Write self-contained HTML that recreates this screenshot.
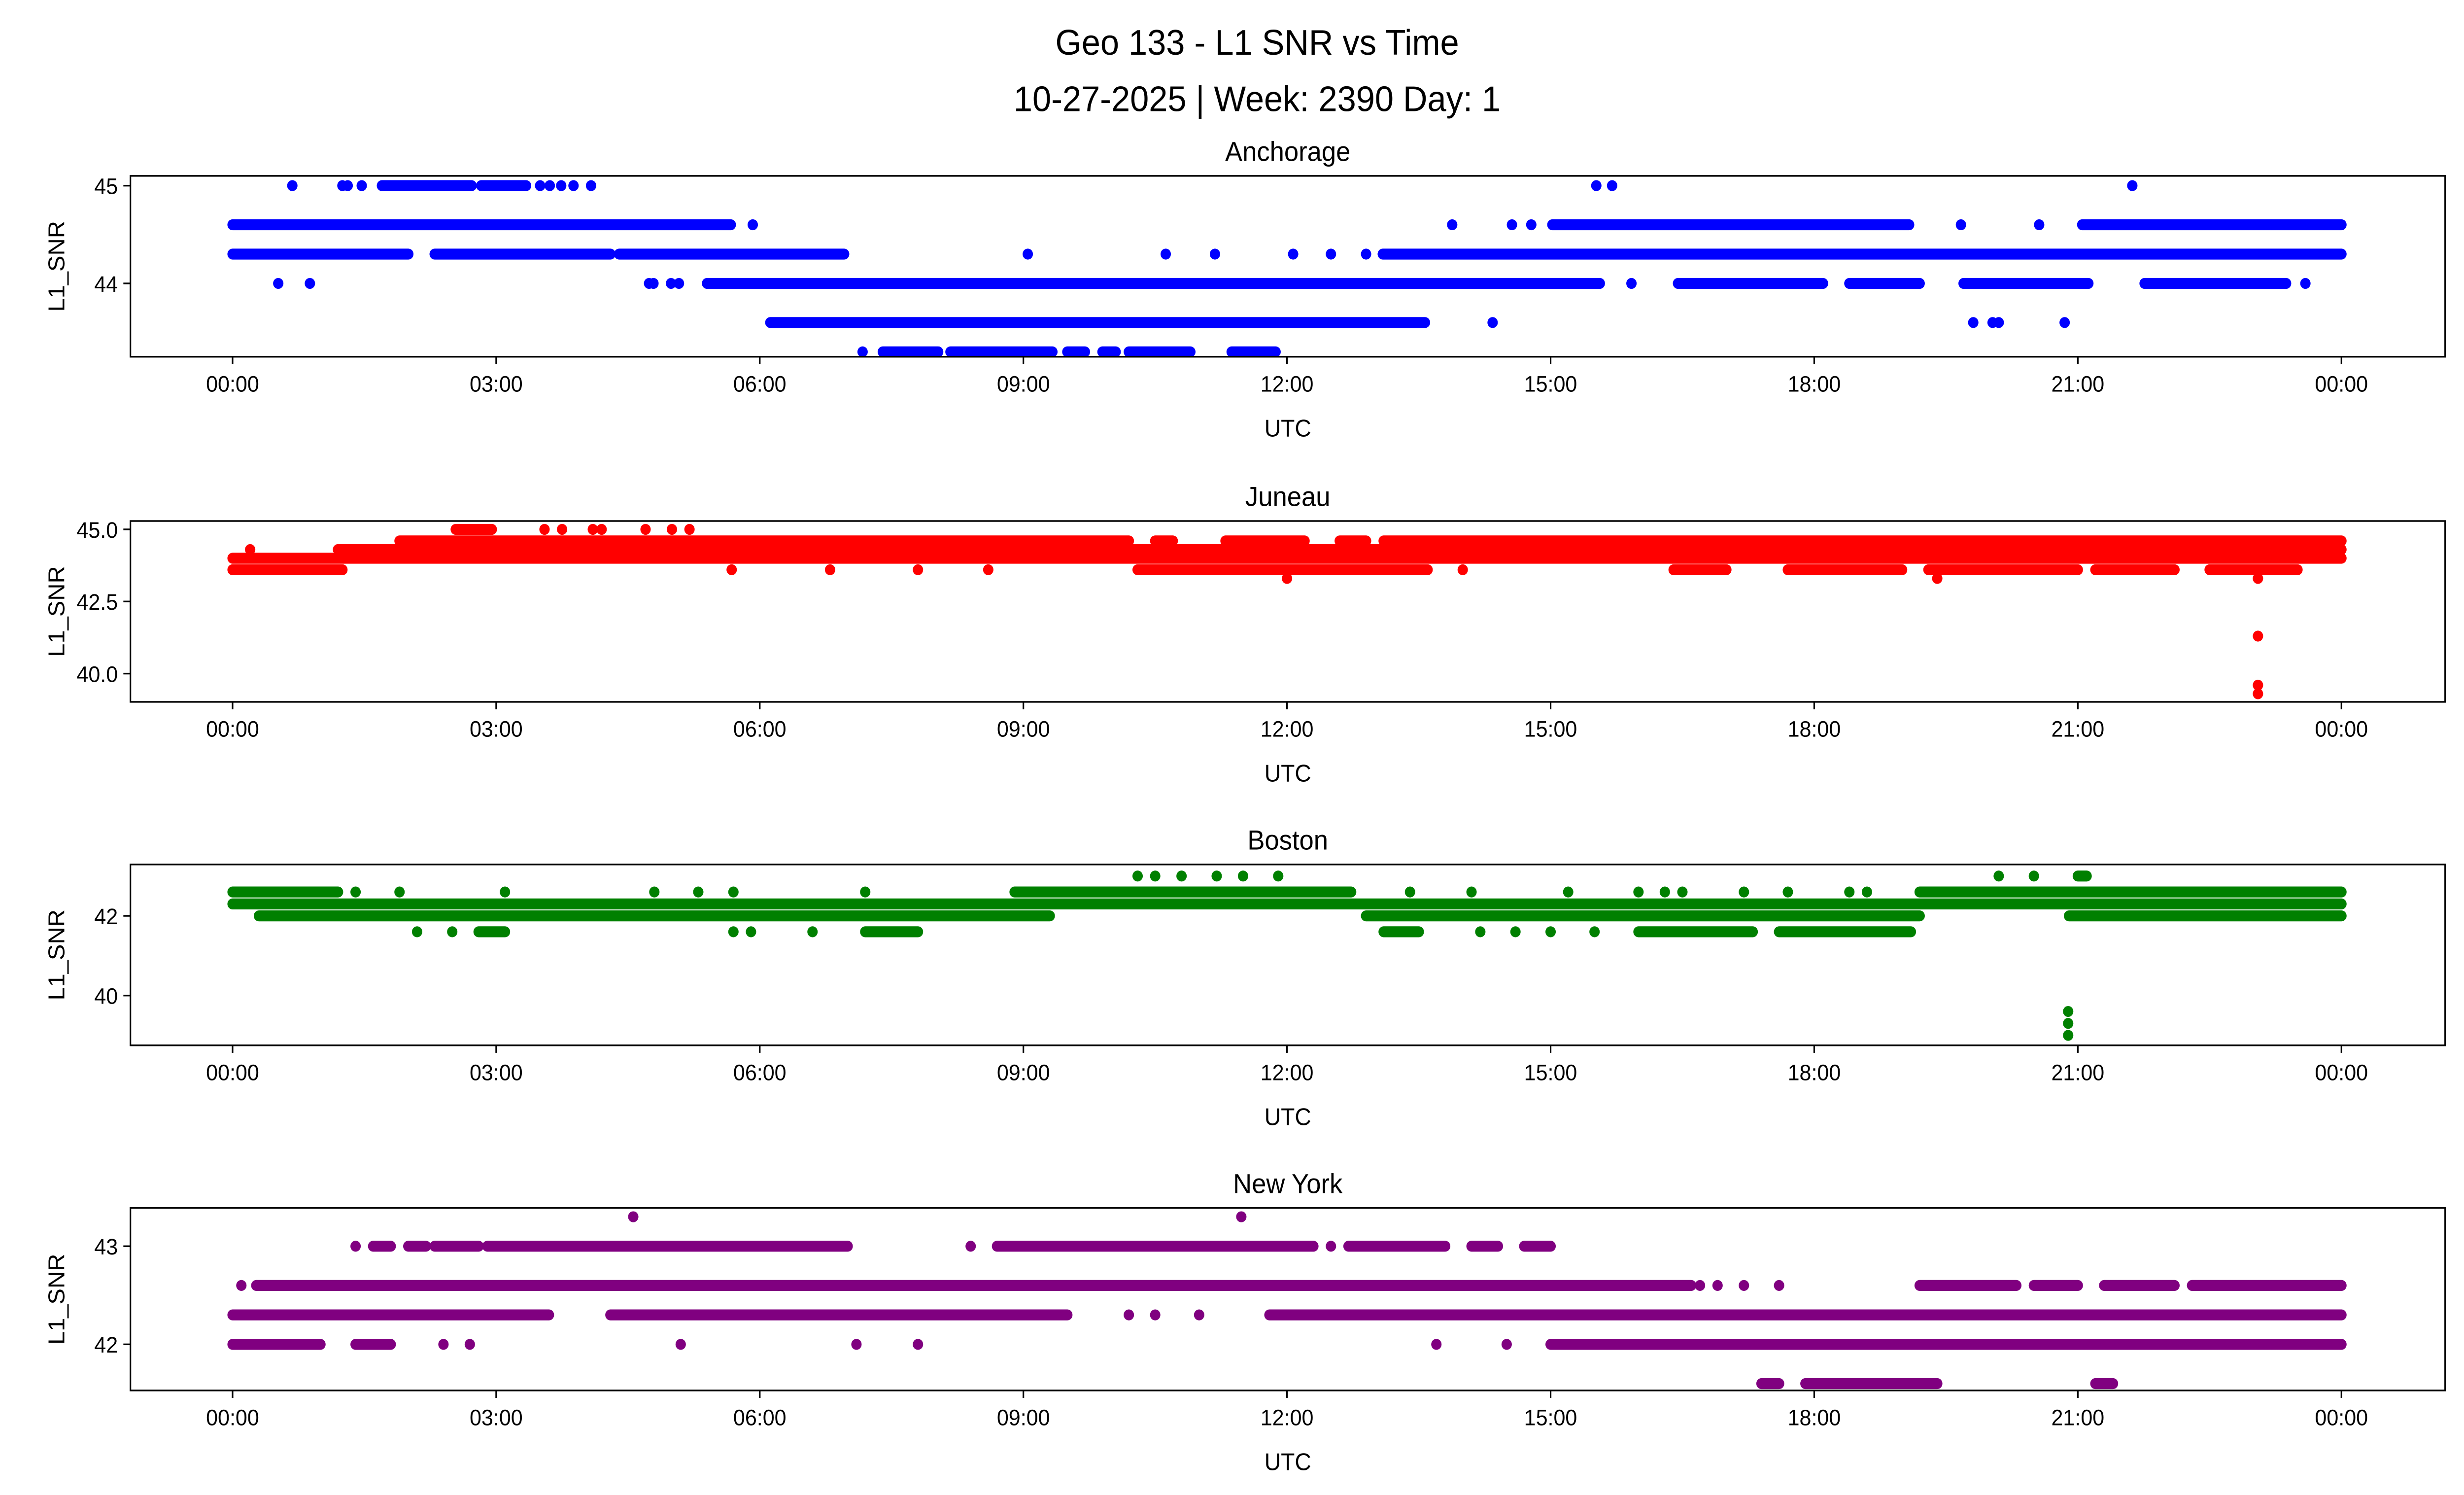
<!DOCTYPE html>
<html><head><meta charset="utf-8">
<style>
html,body{margin:0;padding:0;background:#fff;width:100%;height:100%;overflow:hidden;}
svg{display:block;position:absolute;left:0;top:0;width:100vw;height:100vh;}
text{font-family:"Liberation Sans","DejaVu Sans",sans-serif;fill:#000;}
</style></head>
<body>
<svg id="chart" viewBox="0 0 1568 901" preserveAspectRatio="none" xmlns="http://www.w3.org/2000/svg">
<text x="800" y="33" font-size="21.5" text-anchor="middle">Geo 133 - L1 SNR vs Time</text>
<text x="800" y="67" font-size="21.5" text-anchor="middle">10-27-2025 | Week: 2390 Day: 1</text>
</svg>
<script>
// x tick labels (hours)
const xTickHours = [0,3,6,9,12,15,18,21,24];
const xTickLabels = ["00:00","03:00","06:00","09:00","12:00","15:00","18:00","21:00","00:00"];

// Anchorage: segments [startHour, endHour, snr], points [hour, snr]
const anchorageSegments = [[0,5.67,44.6],[15.02,19.08,44.6],[21.05,24,44.6],[0,2.0,44.3],[2.3,4.3,44.3],[4.4,6.96,44.3],[13.09,24,44.3],[5.4,15.56,44.0],[16.45,18.1,44.0],[18.4,19.2,44.0],[19.7,21.12,44.0],[21.76,23.37,44.0],[6.12,13.57,43.6],[7.4,8.03,43.3],[8.17,9.33,43.3],[9.5,9.7,43.3],[9.9,10.05,43.3],[10.2,10.9,43.3],[11.37,11.87,43.3],[1.7,2.72,45],[2.83,3.34,45]];
const anchoragePoints = [[0.68,45],[1.25,45],[1.31,45],[1.47,45],[3.5,45],[3.61,45],[3.74,45],[3.88,45],[4.08,45],[15.52,45],[15.7,45],[21.62,45],[5.92,44.6],[13.88,44.6],[14.56,44.6],[14.78,44.6],[19.67,44.6],[20.56,44.6],[9.05,44.3],[10.62,44.3],[11.18,44.3],[12.07,44.3],[12.5,44.3],[12.9,44.3],[0.52,44],[0.88,44],[4.74,44],[4.79,44],[4.99,44],[5.08,44],[15.92,44],[23.59,44],[14.34,43.6],[19.81,43.6],[20.03,43.6],[20.1,43.6],[20.85,43.6],[7.17,43.3]];

// Juneau
const juneauSegments = [[0,1.25,43.6],[10.3,13.6,43.6],[16.4,17.0,43.6],[17.7,19.0,43.6],[19.3,21.0,43.6],[21.2,22.1,43.6],[22.5,23.5,43.6],[0,24,44.0],[1.2,24,44.3],[1.9,10.2,44.6],[10.5,10.7,44.6],[11.3,12.2,44.6],[12.6,12.9,44.6],[13.1,24,44.6],[2.54,2.95,45.0]];
const juneauPoints = [[0.2,44.3],[5.68,43.6],[6.8,43.6],[7.8,43.6],[8.6,43.6],[14.0,43.6],[3.55,45],[3.75,45],[4.1,45],[4.2,45],[4.7,45],[5.0,45],[5.2,45],[12.0,43.3],[19.4,43.3],[23.05,43.3],[23.05,41.3],[23.05,39.6],[23.05,39.3]];

// Boston
const bostonSegments = [[0,1.2,42.6],[8.9,12.73,42.6],[19.2,24,42.6],[0,24,42.3],[0.3,9.3,42.0],[12.9,19.2,42.0],[20.9,24,42.0],[2.8,3.1,41.6],[7.2,7.8,41.6],[13.1,13.5,41.6],[16.0,17.3,41.6],[17.6,19.1,41.6],[21.0,21.1,43.0]];
const bostonPoints = [[1.4,42.6],[1.9,42.6],[3.1,42.6],[4.8,42.6],[5.3,42.6],[5.7,42.6],[7.2,42.6],[13.4,42.6],[14.1,42.6],[15.2,42.6],[16.0,42.6],[16.3,42.6],[16.5,42.6],[17.2,42.6],[17.7,42.6],[18.4,42.6],[18.6,42.6],[2.1,41.6],[2.5,41.6],[5.7,41.6],[5.9,41.6],[6.6,41.6],[14.2,41.6],[14.6,41.6],[15.0,41.6],[15.5,41.6],[10.3,43],[10.5,43],[10.8,43],[11.2,43],[11.5,43],[11.9,43],[20.1,43],[20.5,43],[20.89,39.6],[20.89,39.3],[20.89,39.0]];

// New York
const nyParts = [[2.9,7.0,43.0],[8.7,12.3,43.0],[12.7,13.8,43.0],[14.1,14.4,43.0],[14.7,15.0,43.0],[1.6,1.8,43.0],[2.0,2.2,43.0],[2.3,2.8,43.0],[0.27,16.6,42.6],[19.2,20.3,42.6],[20.5,21.0,42.6],[21.3,22.1,42.6],[22.3,24,42.6],[0,3.6,42.3],[4.3,9.5,42.3],[11.8,24,42.3],[0,1.0,42.0],[1.4,1.8,42.0],[15.0,24,42.0],[17.4,17.6,41.6],[17.9,19.4,41.6],[21.2,21.4,41.6]];
const nyPoints = [[4.56,43.3],[11.48,43.3],[1.4,43],[8.4,43],[12.5,43],[0.1,42.6],[16.7,42.6],[16.9,42.6],[17.2,42.6],[17.6,42.6],[10.2,42.3],[10.5,42.3],[11.0,42.3],[2.4,42],[2.7,42],[5.1,42],[7.1,42],[7.8,42],[13.7,42],[14.5,42]];

const NS = "http://www.w3.org/2000/svg";
const svg = document.getElementById('chart');
const AX_L = 83, AX_R = 1556, X0 = 148, X24 = 1490;
function xScale(h){ return X0 + (X24 - X0) * h / 24; }
function mk(tag, attrs){ const e = document.createElementNS(NS, tag); for (const k in attrs) e.setAttribute(k, attrs[k]); return e; }

const panels = [
 {key:'anchorage', title:'Anchorage', top:106, bottom:215, ymax:45.10, ymin:43.25, yticks:[44,45], ylabels:['44','45'], color:'#0000ff', segs:anchorageSegments, pts:anchoragePoints},
 {key:'juneau', title:'Juneau', top:314, bottom:423, ymax:45.29, ymin:39.02, yticks:[40,42.5,45], ylabels:['40.0','42.5','45.0'], color:'#ff0000', segs:juneauSegments, pts:juneauPoints},
 {key:'boston', title:'Boston', top:521, bottom:630, ymax:43.29, ymin:38.75, yticks:[40,42], ylabels:['40','42'], color:'#008000', segs:bostonSegments, pts:bostonPoints},
 {key:'new-york', title:'New York', top:728, bottom:838, ymax:43.39, ymin:41.53, yticks:[42,43], ylabels:['42','43'], color:'#800080', segs:nyParts, pts:nyPoints}
];

panels.forEach(p => {
  const g = mk('g', {});
  
  
  svg.appendChild(g);
  const y = v => p.bottom - (v - p.ymin) / (p.ymax - p.ymin) * (p.bottom - p.top);
  const t = mk('text', {x:(AX_L+AX_R)/2, y:p.top-9, 'font-size':16.5, 'text-anchor':'middle'});
  t.textContent = p.title;
  
  
  g.appendChild(t);
  const r = 3.3;
  p.segs.forEach(s => {
    const l = mk('line', {x1:xScale(s[0]), x2:xScale(s[1]), y1:y(s[2]), y2:y(s[2]), stroke:p.color, 'stroke-width':2*r, 'stroke-linecap':'round'});
    
    
    g.appendChild(l);
  });
  p.pts.forEach(s => {
    const c = mk('circle', {cx:xScale(s[0]), cy:y(s[1]), r:r, fill:p.color});
    
    
    g.appendChild(c);
  });
  const frame = mk('rect', {x:AX_L, y:p.top, width:AX_R-AX_L, height:p.bottom-p.top, fill:'none', stroke:'#000', 'stroke-width':1});
  
  
  g.appendChild(frame);
  xTickHours.forEach((h,i) => {
    const x = xScale(h);
    const tk = mk('line', {x1:x, x2:x, y1:p.bottom, y2:p.bottom+4.5, stroke:'#000', 'stroke-width':1});
    
    
    g.appendChild(tk);
    const lb = mk('text', {x:x, y:p.bottom+21, 'font-size':13.5, 'text-anchor':'middle'});
    lb.textContent = xTickLabels[i];
    
    
    g.appendChild(lb);
  });
  p.yticks.forEach((v,i) => {
    const yy = y(v);
    const tk = mk('line', {x1:AX_L-4.5, x2:AX_L, y1:yy, y2:yy, stroke:'#000', 'stroke-width':1});
    
    
    g.appendChild(tk);
    const lb = mk('text', {x:AX_L-8, y:yy+5, 'font-size':13.5, 'text-anchor':'end'});
    lb.textContent = p.ylabels[i];
    
    
    g.appendChild(lb);
  });
  const xl = mk('text', {x:(AX_L+AX_R)/2, y:p.bottom+48, 'font-size':14.5, 'text-anchor':'middle'});
  xl.textContent = 'UTC';
  
  
  g.appendChild(xl);
  const cy = (p.top+p.bottom)/2;
  const yl = mk('text', {x:0, y:0, 'font-size':14.5, 'text-anchor':'middle', transform:`translate(41,${cy}) rotate(-90)`});
  yl.textContent = 'L1_SNR';
  
  
  g.appendChild(yl);
});
</script>
</body></html>
